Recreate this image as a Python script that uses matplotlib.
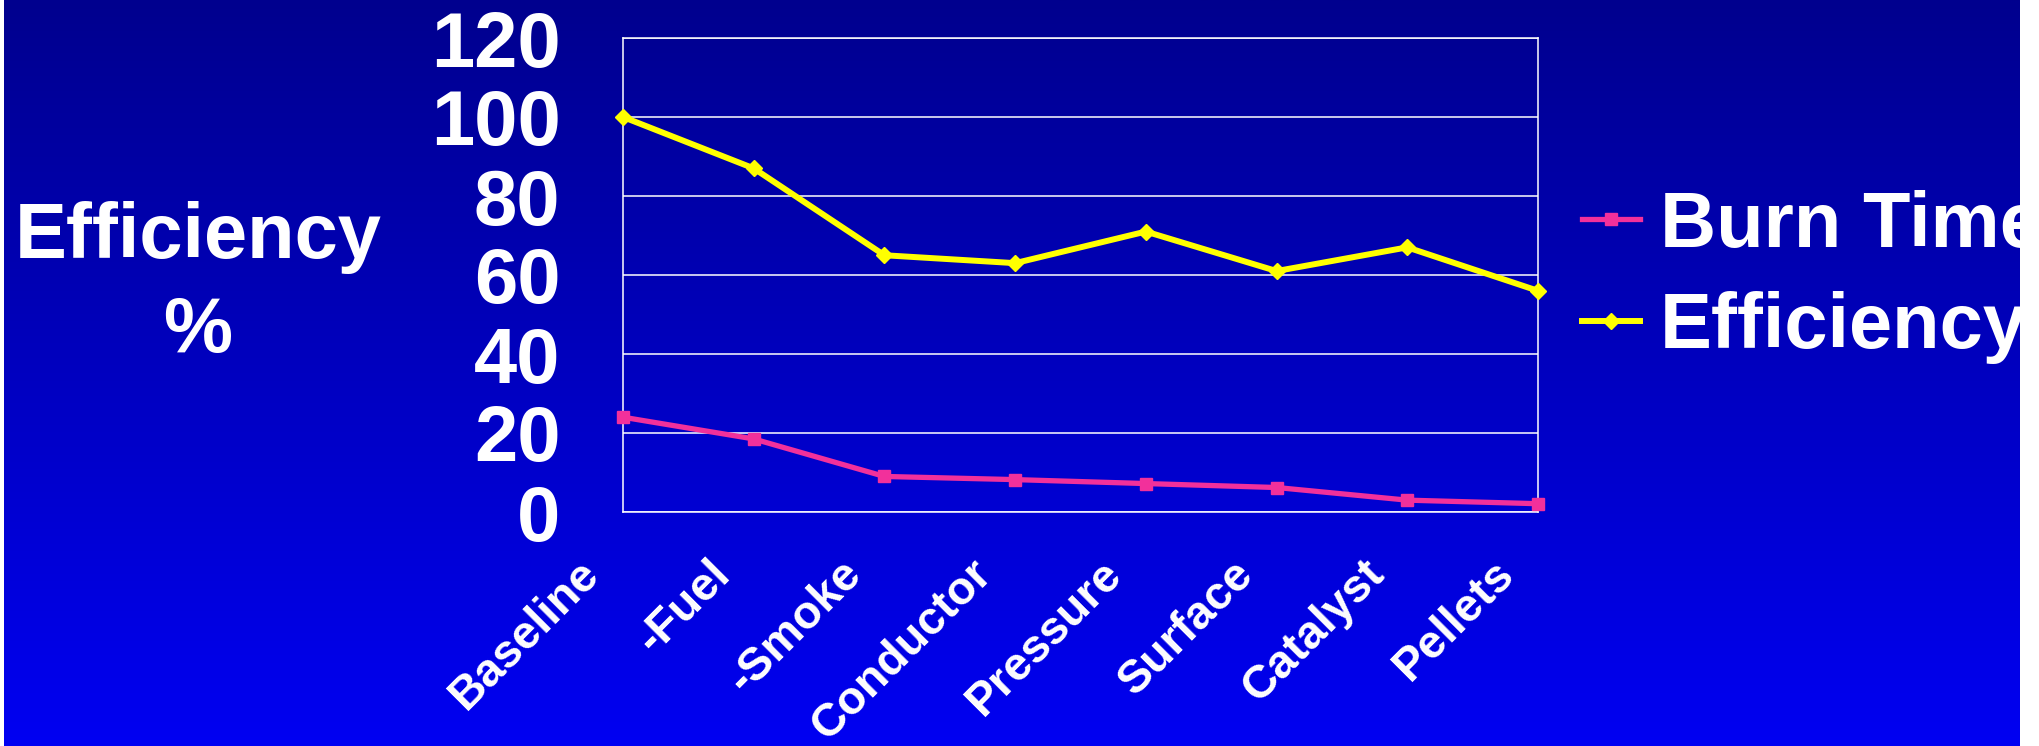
import numpy as np
import matplotlib
matplotlib.use("Agg")
import matplotlib.pyplot as plt
from matplotlib.patches import Rectangle
from matplotlib.transforms import ScaledTranslation

plt.rcParams['font.family'] = ['Liberation Sans', 'DejaVu Sans']
plt.rcParams['font.weight'] = 'bold'

# data
steps = ["Baseline", "-Fuel", "-Smoke", "Conductor", "Pressure",
         "Surface", "Catalyst", "Pellets"]
burn_time = [24, 18.5, 9, 8.2, 7.2, 6.2, 3, 2.1]
efficiency = [100, 87, 65, 63, 71, 61, 67, 56]
y_ticks = [0, 20, 40, 60, 80, 100, 120]

W, H = 2040, 746
fig = plt.figure(figsize=(W / 100, H / 100), dpi=100)
fig.patch.set_facecolor('white')

# slide background: dark navy at the top fading to bright blue
bg = fig.add_axes([4 / W, 0, 2016 / W, 1], zorder=-1)
grad = np.linspace(0, 1, 256).reshape(-1, 1)
top = np.array([0, 0, 0x8E]) / 255
bot = np.array([0, 0, 0xF2]) / 255
img = top + grad[..., None] * (bot - top)
bg.imshow(img, aspect='auto', extent=[0, 1, 0, 1], origin='upper')
bg.set_axis_off()

ax = fig.add_axes([623 / W, 1 - 512 / H, 915 / W, 474 / H])
ax.set_facecolor('none')

x = np.arange(len(steps))
ax.plot(x, burn_time, color='#F2309B', lw=3.8, marker='s', ms=8.5,
        label='Burn Time', zorder=3, clip_on=False)
ax.plot(x, efficiency, color='#FFFF00', lw=4.3, marker='D', ms=8,
        label='Efficiency', zorder=4, clip_on=False)

ax.set_xlim(0, len(steps) - 1)
ax.set_ylim(0, 120)
ax.set_yticks(y_ticks)
ax.set_yticklabels([str(v) for v in y_ticks], fontsize=56, color='white',
                   fontweight='bold')
ax.set_xticks(x)
ax.set_xticklabels(steps, fontsize=33.5, color='white', fontweight='bold',
                   rotation=45, ha='right', va='center', rotation_mode='anchor')
ax.tick_params(axis='y', length=0, pad=45)
ax.tick_params(axis='x', length=0, pad=40)
shift = ScaledTranslation(-30 / 100, 0, fig.dpi_scale_trans)
for lbl in ax.get_xticklabels():
    lbl.set_transform(lbl.get_transform() + shift)

ax.grid(axis='y', color='white', lw=1.1)
ax.set_axisbelow(True)
for s in ax.spines.values():
    s.set_color('white')
    s.set_linewidth(1.1)

ax.set_ylabel("Efficiency\n%", rotation=0, fontsize=56, color='white',
              fontweight='bold', ha='center', va='center', linespacing=1.36)
ax.yaxis.set_label_coords((198 - 623) / 915, 0.48)

leg = ax.legend(loc='center left', bbox_to_anchor=(1582 / W, 1 - 277 / H),
                bbox_transform=fig.transFigure, frameon=False,
                prop={'size': 56, 'weight': 'bold'}, handlelength=0.75,
                handletextpad=0.25, labelspacing=0.37, borderpad=0,
                borderaxespad=0)
for t in leg.get_texts():
    t.set_color('white')

# white margin on the right edge cuts off the legend text
fig.add_artist(Rectangle((2020 / W, 0), 20 / W, 1, transform=fig.transFigure,
                         facecolor='white', edgecolor='none', zorder=10))

fig.savefig("out.png", dpi=100, facecolor=fig.get_facecolor())
